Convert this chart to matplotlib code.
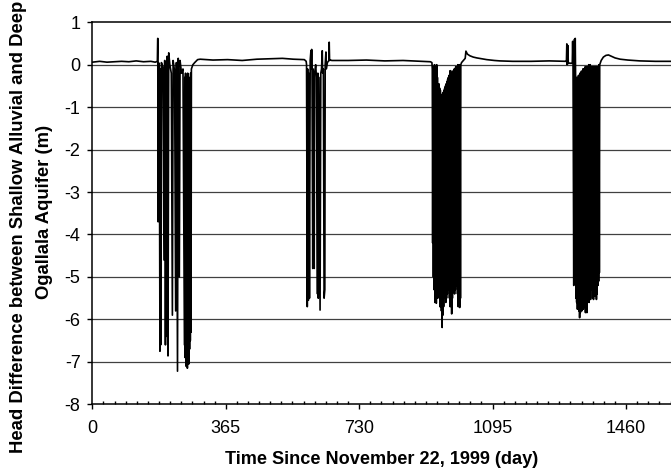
import matplotlib
matplotlib.use("Agg")
import matplotlib.pyplot as plt
from matplotlib.ticker import MultipleLocator

plt.rcParams['font.family'] = ['Liberation Sans', 'DejaVu Sans']
plt.rcParams['axes.unicode_minus'] = False

# (day, head difference in m)
base_start = [(0, 0.06), (20, 0.08), (40, 0.06), (60, 0.07), (80, 0.08), (100, 0.07),
              (120, 0.09), (140, 0.07), (160, 0.08), (172, 0.06)]

event_2000 = [(178, 0.08), (179, 0.62), (180, -3.7), (181, 0.05), (183, 0.0), (185, -6.75),
              (186, -0.1), (187, -6.6), (189, 0.05), (193, -0.05), (196, -4.6), (198, 0.1),
              (200, -6.6), (202, -0.1), (204, -6.4), (205, 0.2), (207, -6.86), (209, 0.28),
              (212, 0.0), (216, -0.2), (219, -5.9), (221, 0.1), (225, -0.15), (228, -5.8),
              (230, 0.05), (233, -7.22), (235, 0.15), (238, -5.0), (240, 0.1), (244, -0.2),
              (248, -0.1), (252, -6.6), (253, -0.3), (254, -6.9), (255, -0.2), (256, -7.1),
              (257, -0.4), (258, -6.8), (259, -0.3), (260, -7.15), (261, -0.2), (262, -6.9),
              (263, -0.5), (264, -7.05), (265, -0.3), (266, -6.7), (267, -0.4), (268, -6.5),
              (269, -0.2), (270, -6.3), (271, -0.1), (275, 0.0), (280, 0.05), (288, 0.12),
              (295, 0.13)]

base_2000 = [(330, 0.11), (370, 0.12), (410, 0.1), (450, 0.13), (490, 0.14), (520, 0.15),
             (550, 0.13), (580, 0.12), (585, 0.08)]

event_2001 = [(586, 0.0), (588, -5.7), (589, -0.1), (591, -5.55), (592, -0.2), (594, -5.5),
              (596, 0.1), (598, 0.33), (599, -0.1), (600, 0.36), (601, -0.2), (603, -4.8),
              (604, -0.1), (606, -3.5), (607, -4.8), (608, -0.2), (611, 0.0), (613, -0.3),
              (616, -5.4), (617, -0.2), (618, -5.5), (620, -0.3), (623, -5.78), (625, -0.2),
              (627, -0.1), (629, 0.33), (630, -0.2), (632, -0.1), (634, -5.5), (636, -5.3),
              (637, 0.0), (639, 0.3), (640, -0.1), (643, 0.05), (647, 0.1), (648, 0.53),
              (649, 0.1), (652, 0.11)]

base_2001 = [(655, 0.1), (700, 0.1), (750, 0.11), (800, 0.09), (850, 0.1), (900, 0.08),
             (925, 0.07), (929, 0.05)]

event_2002 = [(930, -0.1), (931, -4.2), (932, -0.05), (933, -5.0), (934, -0.1), (935, -5.3),
              (936, 0.0), (937, -5.6), (938, -0.1), (939, -5.4), (940, -0.05), (941, -5.62),
              (942, 0.0), (943, -5.5), (944, -0.3), (945, -5.4), (946, -0.5), (947, -5.3),
              (948, -0.45), (949, -5.5), (950, -0.55), (951, -5.7), (952, -0.6), (953, -5.6),
              (954, -0.7), (955, -5.8), (956, -0.77), (957, -6.19), (958, -0.7), (959, -5.9),
              (960, -0.65), (961, -5.7), (962, -0.6), (963, -5.5), (964, -0.55), (965, -5.45),
              (966, -0.5), (967, -5.6), (968, -0.45), (969, -5.5), (970, -0.4), (971, -5.4),
              (972, -0.35), (973, -5.3), (974, -0.3), (975, -5.2), (976, -0.25), (977, -5.5),
              (978, -0.15), (979, -5.7), (980, -0.14), (981, -5.6), (982, -0.2), (983, -5.87),
              (984, -0.2), (985, -5.5), (986, -0.15), (987, -5.3), (988, -0.2), (989, -5.35),
              (990, -0.1), (991, -5.4), (992, -0.1), (993, -5.3), (994, -0.05), (995, -5.2),
              (996, -0.1), (997, -5.1), (998, -0.05), (999, -5.4), (1000, 0.0), (1001, -5.7),
              (1002, -0.05), (1003, -5.5), (1004, 0.0), (1005, -5.72), (1006, -0.05),
              (1007, -5.5), (1008, 0.0)]

base_2002 = [(1010, 0.05), (1015, 0.1), (1020, 0.15), (1022, 0.32), (1026, 0.25), (1033, 0.21),
             (1042, 0.18), (1052, 0.16), (1065, 0.14), (1079, 0.12), (1100, 0.1), (1115, 0.09),
             (1150, 0.08), (1200, 0.08), (1250, 0.09), (1290, 0.08), (1296, 0.08)]

event_2003 = [(1297, 0.1), (1298, 0.49), (1299, 0.0), (1300, 0.05), (1301, 0.45), (1302, 0.03),
              (1306, 0.04), (1310, 0.03), (1313, 0.05), (1314, 0.55), (1315, 0.0), (1317, -5.2),
              (1318, 0.1), (1319, 0.6), (1320, -0.1), (1321, 0.62), (1322, -0.3),
              (1323, -5.5), (1324, -0.3), (1325, -5.6), (1326, -0.35), (1327, -5.76),
              (1328, -0.3), (1329, -5.7), (1330, -0.25), (1331, -5.8), (1332, -0.3),
              (1333, -5.96), (1334, -0.2), (1335, -5.84), (1336, -0.2), (1337, -5.7),
              (1338, -0.15), (1339, -5.8), (1340, -0.2), (1341, -5.6), (1342, -0.1),
              (1343, -5.76), (1344, -0.1), (1345, -5.6), (1346, -0.15), (1347, -5.7),
              (1348, -0.05), (1349, -5.84), (1350, -0.1), (1351, -5.7), (1352, -0.05),
              (1353, -5.84), (1354, -0.1), (1355, -5.6), (1356, -0.05), (1357, -5.5),
              (1358, 0.0), (1359, -5.6), (1360, -0.05), (1361, -5.4), (1362, 0.0),
              (1363, -5.53), (1364, -0.05), (1365, -5.3), (1366, -0.1), (1367, -5.29),
              (1368, -0.05), (1369, -5.5), (1370, -0.05), (1371, -5.53), (1372, -0.1),
              (1373, -5.4), (1374, -0.05), (1375, -5.45), (1376, -0.1), (1377, -5.3),
              (1378, -0.05), (1379, -5.53), (1380, -0.1), (1381, -5.4), (1382, -0.05),
              (1383, -5.2), (1384, -0.05), (1385, -5.1), (1386, 0.0), (1387, -4.9)]

base_2003 = [(1388, 0.0), (1392, 0.1), (1398, 0.18), (1405, 0.22), (1412, 0.23), (1420, 0.2),
             (1430, 0.16), (1444, 0.13), (1465, 0.11), (1498, 0.09), (1540, 0.08), (1583, 0.08)]

x_ticks = [0, 365, 730, 1095, 1460]
y_ticks = [-8, -7, -6, -5, -4, -3, -2, -1, 0, 1]

series = base_start + event_2000 + base_2000 + event_2001 + base_2001 + \
    event_2002 + base_2002 + event_2003 + base_2003
days = [p[0] for p in series]
head = [p[1] for p in series]

fig = plt.figure(figsize=(6.71, 4.69), dpi=100)
ax = fig.add_axes([0.1376, 0.138, 0.8624, 0.8145])

for y in y_ticks[1:-1]:
    ax.axhline(y, color='#404040', lw=0.9, zorder=1)
ax.plot(days, head, color='black', lw=1.2, zorder=2)

ax.set_xlim(0, 1583)
ax.set_ylim(-8, 1)
ax.set_xticks(x_ticks)
ax.set_yticks(y_ticks)
ax.xaxis.set_minor_locator(MultipleLocator(365 / 12))
ax.tick_params(axis='x', which='major', direction='out', length=3.5, width=1, labelsize=13, pad=8)
ax.tick_params(axis='x', which='minor', direction='in', length=2.5, width=1)
ax.tick_params(axis='y', direction='out', length=3.5, width=1, labelsize=13, pad=5)

ax.spines['right'].set_visible(False)
for s in ['left', 'bottom', 'top']:
    ax.spines[s].set_linewidth(1.1)

ax.set_xlabel('Time Since November 22, 1999 (day)', fontsize=13.1, fontweight='bold', labelpad=10)
fig.text(0.027, 0.516, 'Head Difference between Shallow Alluvial and Deep',
         rotation=90, ha='center', va='center', fontsize=13.3, fontweight='bold')
fig.text(0.067, 0.548, 'Ogallala Aquifer (m)',
         rotation=90, ha='center', va='center', fontsize=13.3, fontweight='bold')

fig.savefig('out.png', dpi=100)
